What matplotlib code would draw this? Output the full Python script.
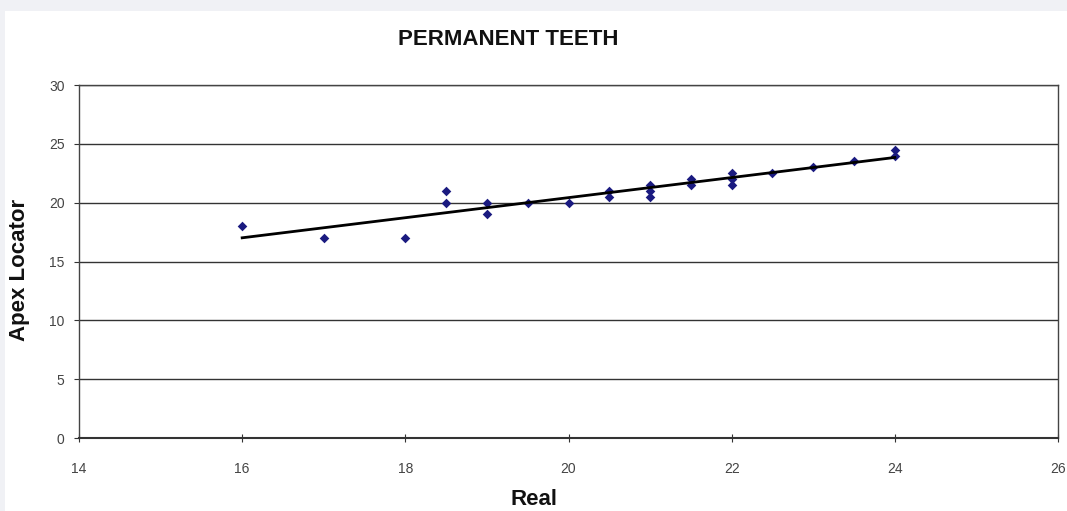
import numpy as np
import matplotlib
matplotlib.use("Agg")
import matplotlib.pyplot as plt
from matplotlib.patches import Rectangle

real = [16, 17, 18, 18.5, 18.5, 19, 19, 19.5, 20, 20.5, 20.5, 21, 21, 21, 21.5, 21.5,
        22, 22, 22, 22.5, 23, 23.5, 24, 24]
apex = [18, 17, 17, 21, 20, 20, 19, 20, 20, 21, 20.5, 21.5, 21, 20.5, 22, 21.5,
        22.5, 22, 21.5, 22.5, 23, 23.5, 24.5, 24]
x_ticks = [14, 16, 18, 20, 22, 24, 26]
y_ticks = [0, 5, 10, 15, 20, 25, 30]

plt.rcParams['font.family'] = ['Liberation Sans', 'DejaVu Sans']

fig = plt.figure(figsize=(10.67, 5.11), dpi=100)
fig.patch.set_facecolor('#f0f1f5')
fig.add_artist(Rectangle((5/1067, 0), 1 - 5/1067, 1 - 11/511, transform=fig.transFigure,
                         facecolor='white', edgecolor='none', zorder=0))

ax = fig.add_axes([79/1067, 1 - 438/511, (1058-79)/1067, (438-85)/511])
ax.set_facecolor('white')
ax.set_xlim(14, 26)
ax.set_ylim(0, 30)
ax.set_xticks(x_ticks)
ax.set_yticks(y_ticks)
ax.grid(axis='y', color='#333333', linewidth=1.0)
ax.set_axisbelow(True)
for s in ax.spines.values():
    s.set_color('#444444')
    s.set_linewidth(1.0)
ax.spines['bottom'].set_color('#333333')
ax.spines['bottom'].set_linewidth(1.5)
ax.tick_params(axis='x', direction='inout', length=6, labelsize=10, labelcolor='#444444', pad=14, color='#333333')
ax.tick_params(axis='y', direction='out', length=3.5, labelsize=10, labelcolor='#444444', pad=7, color='#333333')

ax.scatter(real, apex, marker='D', s=24, color='#1a1a80', zorder=3, linewidths=0)
coef = np.polyfit(real, apex, 1)
xs = np.array([min(real), max(real)])
ax.plot(xs, np.polyval(coef, xs), color='black', linewidth=2.0, zorder=4)

fig.text(508/1067, 1 - 39/511, 'PERMANENT TEETH', ha='center', va='center',
         fontsize=16, fontweight='bold', color='#111111')
fig.text(534/1067, 1 - 499/511, 'Real', ha='center', va='center',
         fontsize=16, fontweight='bold', color='#111111')
fig.text(20/1067, 1 - 270/511, 'Apex Locator', ha='center', va='center', rotation=90,
         fontsize=16, fontweight='bold', color='#111111')

fig.savefig('out.png', dpi=100, facecolor=fig.get_facecolor())
